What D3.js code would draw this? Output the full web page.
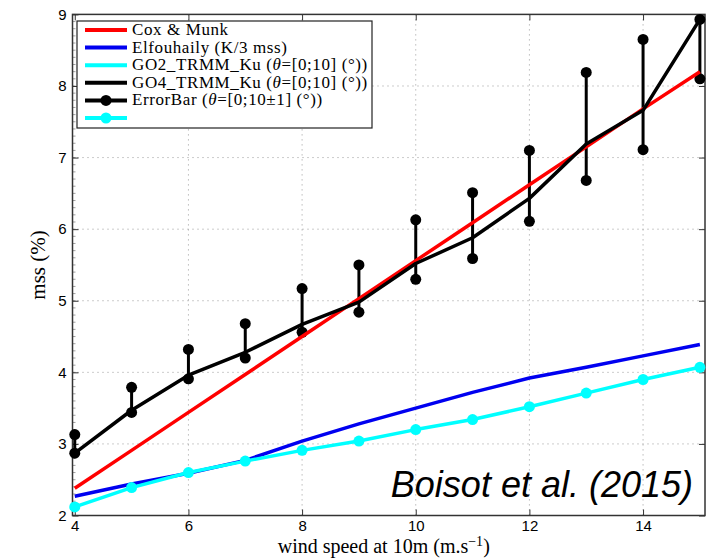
<!DOCTYPE html>
<html lang="en">
<head>
<meta charset="UTF-8" />
<title>mss vs wind speed</title>
<style>
  body { margin: 0; background: #fff; }
  .tick text { font-family: "Liberation Sans", Arial, sans-serif; font-size: 15px; fill: #000; }
  .serif { font-family: "Liberation Serif", "DejaVu Serif", serif; }
</style>
</head>
<body>
<script src="https://cdn.jsdelivr.net/npm/d3@7"></script>
<div id="app"></div>
<script>
// data
const windSpeed = [4, 5, 6, 7, 8, 9, 10, 11, 12, 13, 14, 15];
const coxMunk = [2.38, 2.91, 3.44, 3.97, 4.50, 5.03, 5.56, 6.09, 6.62, 7.15, 7.68, 8.20];
const elfouhaily = [2.27, 2.44, 2.59, 2.77, 3.04, 3.28, 3.50, 3.72, 3.92, 4.07, 4.23, 4.39];
const go2 = [2.12, 2.39, 2.60, 2.76, 2.91, 3.04, 3.20, 3.34, 3.52, 3.71, 3.90, 4.07];
const go4 = [2.87, 3.47, 3.96, 4.28, 4.67, 4.98, 5.52, 5.88, 6.43, 7.19, 7.66, 8.93];
const errTop = [3.13, 3.79, 4.32, 4.68, 5.17, 5.50, 6.13, 6.51, 7.10, 8.19, 8.65, 8.93];
const errBottom = [2.87, 3.44, 3.91, 4.20, 4.56, 4.84, 5.30, 5.59, 6.11, 6.68, 7.11, 8.10];
const xTicks = [4, 6, 8, 10, 12, 14];
const yTicks = [2, 3, 4, 5, 6, 7, 8, 9];
const legendLabels = [
  ["Cox & Munk"],
  ["Elfouhaily (K/3 mss)"],
  ["GO2_TRMM_Ku (", "θ", "=[0;10] (°))"],
  ["GO4_TRMM_Ku (", "θ", "=[0;10] (°))"],
  ["ErrorBar (", "θ", "=[0;10±1] (°))"],
  [""]
];

const W = 713, H = 559;
const pLeft = 72.5, pRight = 705, pTop = 14.4, pBottom = 515.5;

const svg = d3.select("#app").append("svg")
  .attr("width", W).attr("height", H);

const x = d3.scaleLinear().domain([3.96, 15.09]).range([pLeft, pRight]);
const y = d3.scaleLinear().domain([2, 9]).range([pBottom, pTop]);

// grid
const grid = svg.append("g");
grid.selectAll(".gx").data(xTicks.slice(1)).enter().append("line")
  .attr("x1", d => x(d)).attr("x2", d => x(d))
  .attr("y1", pTop).attr("y2", pBottom)
  .attr("stroke", "#999").attr("stroke-width", 1).attr("stroke-dasharray", "1,4");
grid.selectAll(".gy").data(yTicks.slice(1, -1)).enter().append("line")
  .attr("x1", pLeft).attr("x2", pRight)
  .attr("y1", d => y(d)).attr("y2", d => y(d))
  .attr("stroke", "#999").attr("stroke-width", 1).attr("stroke-dasharray", "1,4");

// minor ticks on left axis
svg.append("g").selectAll("line").data(d3.range(20, 91).map(v => v / 10)).enter().append("line")
  .attr("x1", pLeft).attr("x2", pLeft + 3)
  .attr("y1", d => y(d)).attr("y2", d => y(d))
  .attr("stroke", "#888").attr("stroke-width", 0.8);

// axes
svg.append("g").attr("transform", `translate(0,${pBottom})`)
  .call(d3.axisBottom(x).tickValues(xTicks).tickSize(-6).tickPadding(5).tickFormat(d3.format("d")))
  .call(g => g.select(".domain").remove());
svg.append("g").attr("transform", `translate(0,${pTop})`)
  .call(d3.axisTop(x).tickValues(xTicks).tickSize(-6).tickFormat(""))
  .call(g => g.select(".domain").remove());
svg.append("g").attr("transform", `translate(${pLeft},0)`)
  .call(d3.axisLeft(y).tickValues(yTicks).tickSize(-6).tickPadding(6).tickFormat(d3.format("d")))
  .call(g => g.select(".domain").remove());
svg.append("g").attr("transform", `translate(${pRight},0)`)
  .call(d3.axisRight(y).tickValues(yTicks).tickSize(-6).tickFormat(""))
  .call(g => g.select(".domain").remove());
svg.selectAll(".tick line").attr("stroke", "#333");

svg.append("rect")
  .attr("x", pLeft).attr("y", pTop).attr("width", pRight - pLeft).attr("height", pBottom - pTop)
  .attr("fill", "none").attr("stroke", "#333").attr("stroke-width", 1.5);

// curves
const line = d3.line().x((d, i) => x(windSpeed[i])).y(d => y(d));
const curves = svg.append("g").attr("fill", "none").attr("stroke-width", 3.5).attr("stroke-linejoin", "round");
curves.append("path").datum(coxMunk).attr("d", line).attr("stroke", "#ff0000");
curves.append("path").datum(elfouhaily).attr("d", line).attr("stroke", "#0000f0");
curves.append("path").datum(go2).attr("d", line).attr("stroke", "#00ffff");
const go2dots = svg.append("g");
go2dots.selectAll("circle").data(go2).enter().append("circle")
  .attr("cx", (d, i) => x(windSpeed[i])).attr("cy", d => y(d)).attr("r", 5.5).attr("fill", "#00ffff");

// error bars
const eb = svg.append("g");
eb.selectAll("line").data(windSpeed).enter().append("line")
  .attr("x1", d => x(d)).attr("x2", d => x(d))
  .attr("y1", (d, i) => y(errTop[i])).attr("y2", (d, i) => y(errBottom[i]))
  .attr("stroke", "#000").attr("stroke-width", 3);
eb.selectAll(".top").data(errTop).enter().append("circle").attr("class", "top")
  .attr("cx", (d, i) => x(windSpeed[i])).attr("cy", d => y(d)).attr("r", 5.5).attr("fill", "#000");
eb.selectAll(".bot").data(errBottom).enter().append("circle").attr("class", "bot")
  .attr("cx", (d, i) => x(windSpeed[i])).attr("cy", d => y(d)).attr("r", 5.5).attr("fill", "#000");

curves.raise();
go2dots.raise();
svg.append("path").datum(go4).attr("d", line)
  .attr("fill", "none").attr("stroke", "#000").attr("stroke-width", 3.5).attr("stroke-linejoin", "round");

// legend
const legend = svg.append("g");
legend.append("rect").attr("x", 77).attr("y", 21).attr("width", 295).attr("height", 107)
  .attr("fill", "#fff").attr("stroke", "#222").attr("stroke-width", 1.2);
const legendColors = ["#ff0000", "#0000f0", "#00ffff", "#000", "#000", "#00ffff"];
const rowY = d3.scaleLinear().domain([0, 5]).range([30, 118]);
legendLabels.forEach((parts, i) => {
  legend.append("line").attr("x1", 85).attr("x2", 127)
    .attr("y1", rowY(i)).attr("y2", rowY(i))
    .attr("stroke", legendColors[i]).attr("stroke-width", 4);
  if (i >= 4) legend.append("circle").attr("cx", 106).attr("cy", rowY(i)).attr("r", 5.5).attr("fill", legendColors[i]);
  const t = legend.append("text").attr("class", "serif").attr("x", 132).attr("y", rowY(i) + 5)
    .style("font-size", "17px").style("letter-spacing", "0.6px");
  parts.forEach(p => t.append("tspan").text(p).style("font-style", p === "θ" ? "italic" : null));
});

// labels
svg.append("text").attr("class", "serif")
  .attr("transform", `translate(45,${(pTop + pBottom) / 2}) rotate(-90)`)
  .attr("text-anchor", "middle").style("font-size", "21px").text("mss (%)");
const xl = svg.append("text").attr("class", "serif")
  .attr("x", (pLeft + pRight) / 2 - 5).attr("y", 553).attr("text-anchor", "middle").style("font-size", "20px");
xl.append("tspan").text("wind speed at 10m (m.s");
xl.append("tspan").attr("dy", -7).style("font-size", "14px").text("−1");
xl.append("tspan").attr("dy", 7).text(")");

svg.append("text").attr("x", 693).attr("y", 497).attr("text-anchor", "end")
  .style("font-family", "'Liberation Sans', Arial, sans-serif").style("font-style", "italic")
  .style("font-size", "36px").text("Boisot et al. (2015)");
</script>
</body>
</html>
